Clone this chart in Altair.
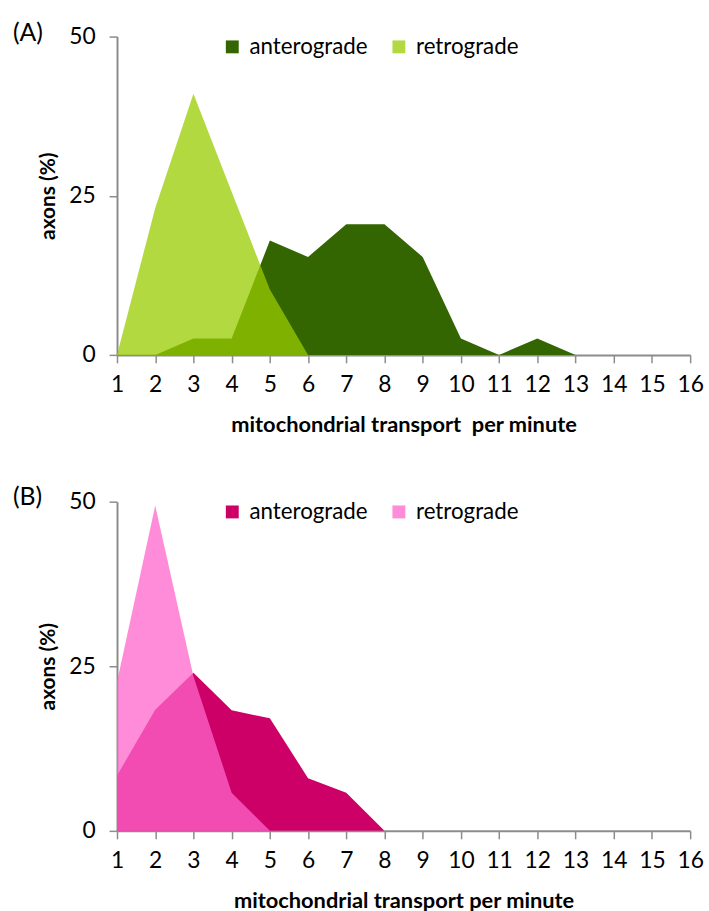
import altair as alt
import pandas as pd

# ---- data ----
x_values = list(range(1, 17))
series_names = ["anterograde", "retrograde"]

a_anterograde = [0, 0, 2.56, 2.56, 17.95, 15.38, 20.51, 20.51, 15.38, 2.56, 0, 2.56, 0, 0, 0, 0]
a_retrograde = [0, 23.08, 41.03, 25.64, 10.26, 0, 0, 0, 0, 0, 0, 0, 0, 0, 0, 0]

b_anterograde = [8.4, 18.4, 24.0, 18.3, 17.1, 8.0, 5.8, 0, 0, 0, 0, 0, 0, 0, 0, 0]
b_retrograde = [22.6, 49.4, 23.5, 5.8, 0, 0, 0, 0, 0, 0, 0, 0, 0, 0, 0, 0]

a_colors = ["#336600", "#99CC00"]
b_colors = ["#CC0066", "#FF66CC"]

FONT = "Lato"
AXIS_GREY = "#8c8c8c"


def make_df(ante, retro):
    rows = []
    for xv, v in zip(x_values, ante):
        rows.append({"x": xv, "y": v, "series": "anterograde"})
    for xv, v in zip(x_values, retro):
        rows.append({"x": xv, "y": v, "series": "retrograde"})
    return pd.DataFrame(rows)


def panel(df, colors, label, xtitle, width, height, lx, ly, label_y):
    leg = dict(
        title=None, orient="none", direction="horizontal",
        legendX=lx, legendY=ly, symbolType="square", symbolSize=169,
        symbolStrokeWidth=0, labelFontSize=22.5, labelFont=FONT,
        labelColor="#000000", columnPadding=20, labelOffset=6,
    )
    area = alt.Chart(df).mark_area().encode(
        x=alt.X("x:Q",
                scale=alt.Scale(domain=[1, 16], nice=False, zero=False),
                axis=alt.Axis(values=x_values, title=xtitle, tickSize=8,
                              labelPadding=11, titlePadding=18, labelFlush=False,
                              titleFontSize=22)),
        y=alt.Y("y:Q", stack=None,
                scale=alt.Scale(domain=[0, 50], nice=False),
                axis=alt.Axis(values=[0, 25, 50], title="axons (%)", tickSize=8,
                              labelPadding=14, titlePadding=10, titleFontSize=21)),
        color=alt.Color("series:N",
                        scale=alt.Scale(domain=series_names, range=colors),
                        legend=alt.Legend(**leg)),
        opacity=alt.Opacity("series:N",
                            scale=alt.Scale(domain=series_names, range=[1.0, 0.75]),
                            legend=alt.Legend(**leg)),
    )
    txt = alt.Chart(pd.DataFrame({"t": [label]})).mark_text(
        align="left", baseline="middle", fontSize=25, font=FONT, color="#000000"
    ).encode(x=alt.value(-105), y=alt.value(label_y), text="t:N")
    return alt.layer(area, txt).properties(width=width, height=height)


top = panel(make_df(a_anterograde, a_retrograde), a_colors, "(A)",
            "mitochondrial transport\u00a0 per minute", 578, 321, 105, -1, -4)
bottom = panel(make_df(b_anterograde, b_retrograde), b_colors, "(B)",
               "mitochondrial transport per minute", 578, 332, 105, -1, -5)

chart = alt.vconcat(top, bottom, spacing=50).resolve_scale(
    color="independent", opacity="independent"
).resolve_legend(
    color="independent", opacity="independent"
).properties(
    padding={"left": 13, "top": 17, "right": 5, "bottom": 5}
).configure_view(stroke=None).configure_axis(
    grid=False, domainColor=AXIS_GREY, tickColor=AXIS_GREY, domainWidth=2,
    tickWidth=1.5, labelFont=FONT, labelFontSize=23, labelColor="#000000",
    titleFont=FONT, titleFontWeight="bold", titleColor="#000000",
)

chart.save("out.html", embed_options={"renderer": "svg", "actions": False})
